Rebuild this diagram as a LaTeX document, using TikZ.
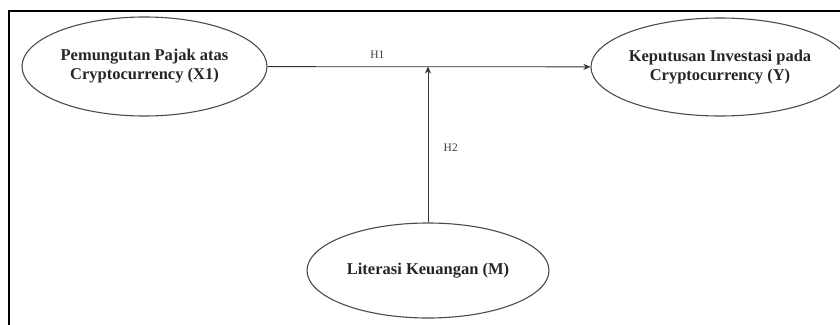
\documentclass[tikz,border=0pt]{standalone}
\usepackage{fontspec}
\setmainfont{Liberation Serif}
\usetikzlibrary{shapes.geometric, arrows.meta}

\begin{document}
\begin{tikzpicture}[>={Stealth[length=7pt, width=6pt]}, x=1pt, y=-1pt,
  var/.style={ellipse, draw=black!70, line width=1.1pt, inner sep=0pt, align=center,
    font=\fontsize{16.5}{19}\selectfont\bfseries, text=black!85},
  hyp/.style={font=\fontsize{11.5}{13}\selectfont, text=black!75},
  link/.style={->, draw=black!80, line width=0.8pt}]
\useasboundingbox (0,0) rectangle (840,324);
\fill[white] (0,0) rectangle (840,324);
\draw[line width=1.8pt] (9,330) -- (9,11) -- (850,11);
\node[var, minimum width=245, minimum height=99] (x1) at (144.5,66.5) {Pemungutan Pajak atas\\Cryptocurrency (X1)};
\node[var, minimum width=240, minimum height=98] (y) at (720,67) {Keputusan Investasi pada\\Cryptocurrency (Y)};
\node[var, minimum width=242, minimum height=95] (m) at (428,270.5) {Literasi Keuangan (M)};
\coordinate (j) at (428,66.5);
\draw[link] (x1) -- node[hyp, pos=0.34, above=4pt] {H1} (y);
\draw[link] (m) -- node[hyp, pos=0.48, right=12pt] {H2} (j);
\end{tikzpicture}
\end{document}
